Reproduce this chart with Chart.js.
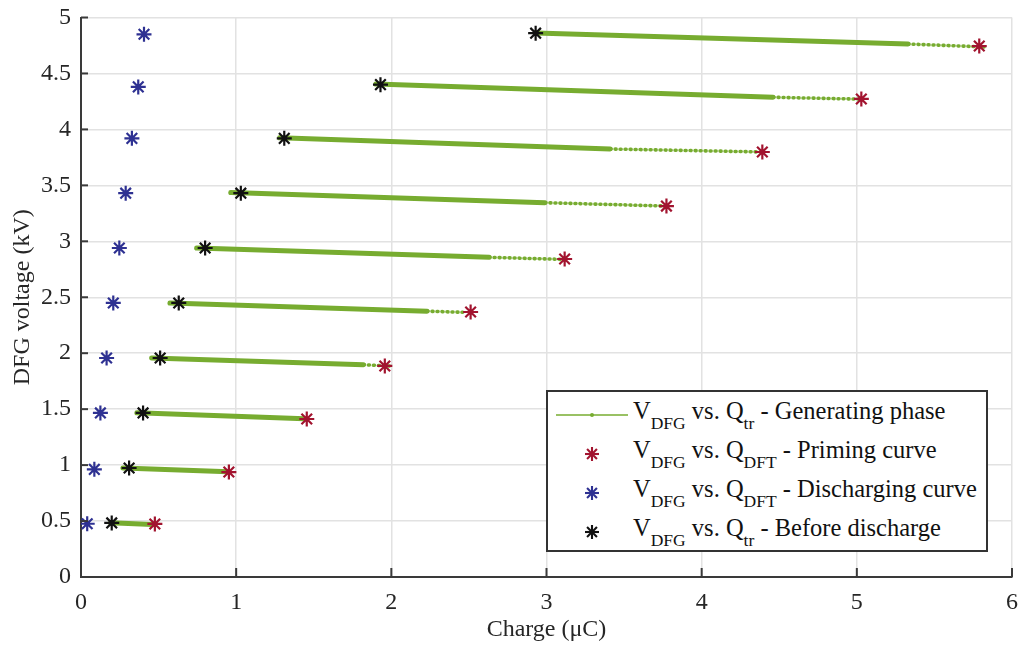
<!DOCTYPE html>
<html>
<head>
<meta charset="utf-8">
<script src="https://cdn.jsdelivr.net/npm/chart.js@4/dist/chart.umd.min.js"></script>
<style>
  body { margin:0; background:#fff; overflow:hidden; }
  #wrap { position:relative; width:1018px; height:648px; }
  #chart { display:block; }
  #legend {
    position:absolute; left:546px; top:390px; width:442px; height:162px;
    border:2px solid #333; background:#fff;
    font-family:"Liberation Serif","Times New Roman",serif; color:#111;
    padding-top:3px; box-sizing:border-box;
  }
  .row { display:flex; align-items:center; height:39px; }
  .mk { width:85px; height:38px; flex:none; }
  .txt { font-size:24.5px; line-height:24px; white-space:nowrap; margin-top:-8px; }
  .txt sub { font-size:17.5px; vertical-align:-10px; line-height:0; }
</style>
</head>
<body>
<div id="wrap">
  <canvas id="chart" width="1018" height="648"></canvas>
  <div id="legend"></div>
</div>
<script>
/* ===============================
  Data (charge in uC, voltage in kV)
================================ */
// generating phase: start, end of dense part, last point
const phaseStartQ = [0.19, 0.27, 0.36, 0.455, 0.573, 0.745, 0.965, 1.28, 1.90, 2.93];
const phaseStartV = [0.484, 0.975, 1.467, 1.958, 2.449, 2.94, 3.435, 3.925, 4.405, 4.862];
const phaseKneeQ  = [0.46, 0.95, 1.44, 1.82, 2.23, 2.63, 2.99, 3.41, 4.46, 5.33];
const phaseKneeV  = [0.470, 0.940, 1.414, 1.897, 2.375, 2.857, 3.345, 3.825, 4.287, 4.763];
const phaseEndQ   = [0.46, 0.95, 1.44, 2.01, 2.46, 3.11, 3.77, 4.40, 5.03, 5.84];
const phaseEndV   = [0.470, 0.940, 1.414, 1.884, 2.366, 2.838, 3.315, 3.798, 4.270, 4.736];

// priming curve (red)
const primingQ = [0.476, 0.953, 1.455, 1.958, 2.511, 3.117, 3.773, 4.391, 5.029, 5.789];
const primingV = [0.474, 0.938, 1.412, 1.886, 2.368, 2.842, 3.315, 3.798, 4.272, 4.745];

// discharging curve (blue)
const dischargeQ = [0.04, 0.086, 0.125, 0.165, 0.208, 0.247, 0.288, 0.328, 0.369, 0.406];
const dischargeV = [0.476, 0.962, 1.466, 1.957, 2.449, 2.94, 3.43, 3.92, 4.38, 4.85];

// before discharge (black)
const beforeQ = [0.198, 0.31, 0.40, 0.51, 0.63, 0.80, 1.03, 1.31, 1.93, 2.93];
const beforeV = [0.483, 0.974, 1.466, 1.957, 2.449, 2.94, 3.43, 3.92, 4.40, 4.86];

const xTicks = [0, 1, 2, 3, 4, 5, 6];
const yTicks = [0, 0.5, 1, 1.5, 2, 2.5, 3, 3.5, 4, 4.5, 5];

const GREEN = '#77ac30', RED = '#a2142f', BLUE = '#2e3192', BLACK = '#111111';
const FONT = '"Liberation Serif","Times New Roman",serif';

function pts(qs, vs){ return qs.map((q,i)=>({x:q, y:vs[i]})); }

const datasets = [];
phaseStartQ.forEach((q,i)=>{
    datasets.push({
        type:'scatter', showLine:true, order:2,
        data:[
            {x:q, y:phaseStartV[i]},
            {x:phaseKneeQ[i], y:phaseKneeV[i]},
            {x:phaseEndQ[i], y:phaseEndV[i]}
        ],
        borderColor:GREEN, backgroundColor:GREEN,
        borderCapStyle:'round',
        pointRadius:0,
        segment:{
            borderWidth:c=>c.p0DataIndex===0 ? 5 : 3.6,
            borderDash:c=>c.p0DataIndex===0 ? [] : [1,4]
        }
    });
});
[[primingQ,primingV,RED],[dischargeQ,dischargeV,BLUE],[beforeQ,beforeV,BLACK]].forEach(s=>{
    datasets.push({
        type:'scatter', order:0,
        data:pts(s[0], s[1]),
        pointStyle:'star', pointRadius:7.5, pointBorderWidth:2.2,
        borderColor:s[2], backgroundColor:s[2]
    });
});

// inward tick marks
const inTicks = {
    id:'inTicks',
    afterDraw(chart){
        const c = chart.ctx, a = chart.chartArea;
        const xs = chart.scales.x, ys = chart.scales.y;
        c.save();
        c.strokeStyle = '#3a3a3a'; c.lineWidth = 2;
        xTicks.forEach(t=>{
            const px = xs.getPixelForValue(t);
            c.beginPath(); c.moveTo(px, a.bottom); c.lineTo(px, a.bottom-9); c.stroke();
        });
        yTicks.forEach(t=>{
            const py = ys.getPixelForValue(t);
            c.beginPath(); c.moveTo(a.left, py); c.lineTo(a.left+7, py); c.stroke();
        });
        c.restore();
    }
};

new Chart(document.getElementById('chart'),{
    type:'scatter',
    data:{datasets:datasets},
    options:{
        responsive:false,
        animation:false,
        layout:{autoPadding:false, padding:{top:17.5, right:6, left:0, bottom:0}},
        plugins:{legend:{display:false}, tooltip:{enabled:false}},
        scales:{
            x:{
                type:'linear', min:0, max:6,
                afterBuildTicks:s=>{ s.ticks = xTicks.map(v=>({value:v})); },
                afterFit:s=>{ s.height = 71; s.paddingLeft = 0; s.paddingRight = 0; },
                grid:{color:'#e2e2e2', lineWidth:1.5, drawTicks:false},
                border:{color:'#3a3a3a', width:2},
                ticks:{color:'#262626', padding:11, font:{family:FONT, size:24}, maxRotation:0,
                       callback:v=>String(v)},
                title:{display:true, text:'Charge (\u03bcC)', color:'#262626', padding:{top:2}, font:{family:FONT, size:24}}
            },
            y:{
                type:'linear', min:0, max:5,
                afterBuildTicks:s=>{ s.ticks = yTicks.map(v=>({value:v})); },
                afterFit:s=>{ s.width = 81; s.paddingTop = 0; s.paddingBottom = 0; },
                grid:{color:'#e2e2e2', lineWidth:1.5, drawTicks:false},
                border:{color:'#3a3a3a', width:2},
                ticks:{color:'#262626', padding:10, font:{family:FONT, size:24},
                       callback:v=>String(v)},
                title:{display:true, text:'DFG voltage (kV)', color:'#262626', padding:{top:8, bottom:0}, font:{family:FONT, size:24}}
            }
        }
    },
    plugins:[inTicks]
});

/* ===============================
  Legend
================================ */
function starSvg(col){
    const r = 7, d = r*0.7071;
    return '<svg class="mk" viewBox="0 0 85 38"><g stroke="'+col+'" stroke-width="2.1">'+
        '<line x1="44" y1="'+(19-r)+'" x2="44" y2="'+(19+r)+'"/>'+
        '<line x1="'+(44-r)+'" y1="19" x2="'+(44+r)+'" y2="19"/>'+
        '<line x1="'+(44-d)+'" y1="'+(19-d)+'" x2="'+(44+d)+'" y2="'+(19+d)+'"/>'+
        '<line x1="'+(44-d)+'" y1="'+(19+d)+'" x2="'+(44+d)+'" y2="'+(19-d)+'"/></g></svg>';
}
const lineSvg = '<svg class="mk" viewBox="0 0 85 38"><line x1="8" y1="19" x2="80" y2="19" stroke="'+GREEN+'" stroke-width="1.6"/>'+
    '<circle cx="44" cy="19" r="2" fill="'+GREEN+'"/></svg>';

const legendRows = [
    [lineSvg, 'V<sub>DFG</sub> vs. Q<sub>tr</sub> - Generating phase'],
    [starSvg(RED), 'V<sub>DFG</sub> vs. Q<sub>DFT</sub> - Priming curve'],
    [starSvg(BLUE), 'V<sub>DFG</sub> vs. Q<sub>DFT</sub> - Discharging curve'],
    [starSvg(BLACK), 'V<sub>DFG</sub> vs. Q<sub>tr</sub> - Before discharge']
];
document.getElementById('legend').innerHTML = legendRows.map(r=>
    '<div class="row">'+r[0]+'<span class="txt">'+r[1]+'</span></div>').join('');
</script>
</body>
</html>
